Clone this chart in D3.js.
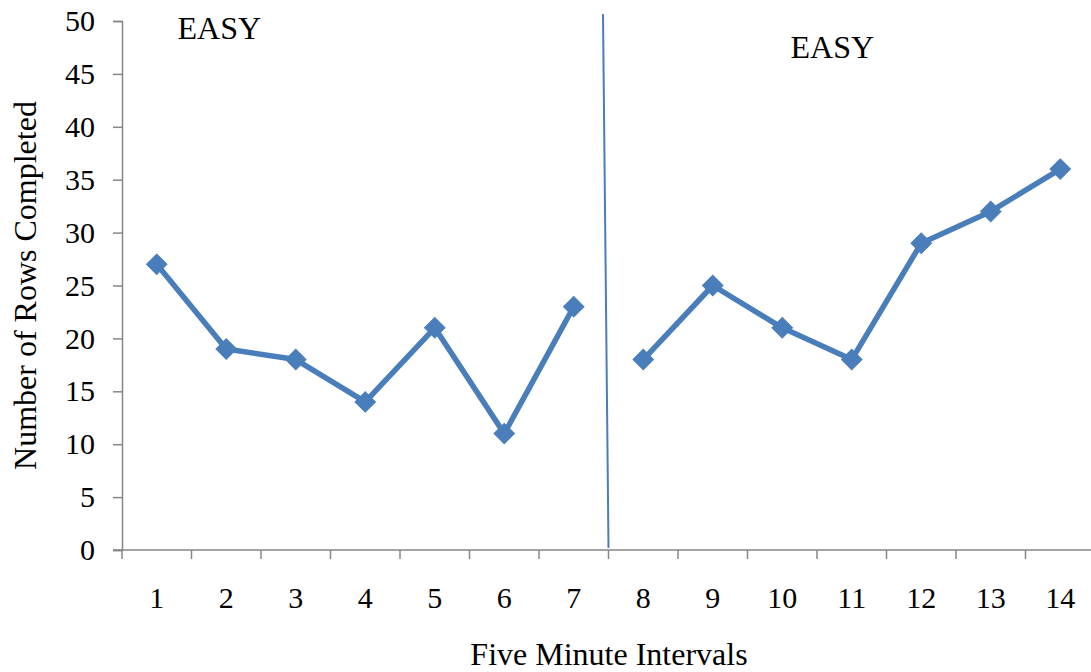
<!DOCTYPE html>
<html>
<head>
<meta charset="utf-8">
<script src="https://cdn.jsdelivr.net/npm/d3@7"></script>
<style>
  html, body { margin: 0; padding: 0; background: #fff; }
  svg { display: block; }
  text { font-family: "Liberation Serif", "Times New Roman", serif; fill: #000; }
</style>
</head>
<body>
<svg id="chart" width="1091" height="672"></svg>
<script>
// Five-minute intervals and rows completed in each
const intervals = [1, 2, 3, 4, 5, 6, 7, 8, 9, 10, 11, 12, 13, 14];
const rowsCompleted = [27, 19, 18, 14, 21, 11, 23, 18, 25, 21, 18, 29, 32, 36];
// Phases (both "EASY"), split between interval 7 and 8
const phaseOne = [1, 2, 3, 4, 5, 6, 7];
const phaseTwo = [8, 9, 10, 11, 12, 13, 14];
const phaseLabels = ["EASY", "EASY"];
const yTicks = [0, 5, 10, 15, 20, 25, 30, 35, 40, 45, 50];

const svg = d3.select("#chart");
const W = 1091, H = 672;
const margin = { left: 122, right: -4, top: 21, bottom: 122 };

const x = d3.scaleBand()
  .domain(intervals)
  .range([margin.left, W - margin.right])
  .paddingInner(0).paddingOuter(0);

const y = d3.scaleLinear()
  .domain([0, 50])
  .range([H - margin.bottom, margin.top]);

const axisColor = "#868686";
const serif = "Liberation Serif, Times New Roman, serif";

// Y axis
const yAxis = svg.append("g")
  .attr("transform", `translate(${margin.left},0)`)
  .call(d3.axisLeft(y).tickValues(yTicks).tickSize(9).tickPadding(18))
  .attr("font-family", serif)
  .attr("font-size", 30);
yAxis.select(".domain").attr("stroke", axisColor).attr("stroke-width", 1.5);
yAxis.selectAll(".tick line").attr("stroke", axisColor).attr("stroke-width", 1.5);
yAxis.selectAll(".tick text")
  .style("font-family", serif)
  .style("font-size", "30px").attr("fill", "#000");

// X axis: tick marks on the category boundaries, labels centred in each band
const xAxisG = svg.append("g")
  .attr("transform", `translate(0,${y(0)})`);
xAxisG.append("line")
  .attr("x1", margin.left - 9).attr("x2", W - margin.right)
  .attr("stroke", axisColor).attr("stroke-width", 1.5);
const boundaries = intervals.map(d => x(d))
  .concat([x(intervals[intervals.length - 1]) + x.bandwidth()]);
xAxisG.selectAll("line.tk").data(boundaries).join("line")
  .attr("class", "tk")
  .attr("x1", d => d).attr("x2", d => d)
  .attr("y1", 0).attr("y2", 9)
  .attr("stroke", axisColor).attr("stroke-width", 1.5);
xAxisG.selectAll("text.lbl").data(intervals).join("text")
  .attr("class", "lbl")
  .attr("x", d => x(d) + x.bandwidth() / 2)
  .attr("y", 58)
  .attr("text-anchor", "middle")
  .style("font-size", "30px")
  .text(d => d);

// Axis titles
svg.append("text")
  .attr("x", 609)
  .attr("y", 665)
  .attr("text-anchor", "middle")
  .style("font-size", "32px")
  .text("Five Minute Intervals");
svg.append("text")
  .attr("transform", `translate(36,${(y(0) + y(50)) / 2}) rotate(-90)`)
  .attr("text-anchor", "middle")
  .style("font-size", "32px")
  .text("Number of Rows Completed");

// Phase-change line between interval 7 and 8
const splitX = x(phaseTwo[0]);
svg.append("line")
  .attr("x1", splitX - 5.5).attr("y1", y(50.65))
  .attr("x2", splitX).attr("y2", y(0.2))
  .attr("stroke", "#4a7ebb").attr("stroke-width", 2);

// Phase labels
svg.append("text")
  .attr("x", x(2) + x.bandwidth() * 0.4)
  .attr("y", y(48.3))
  .attr("text-anchor", "middle")
  .style("font-size", "32px")
  .text(phaseLabels[0]);
svg.append("text")
  .attr("x", x(11) + x.bandwidth() * 0.22)
  .attr("y", y(46.5))
  .attr("text-anchor", "middle")
  .style("font-size", "32px")
  .text(phaseLabels[1]);

// Data series, drawn per phase so the line breaks at the split
const color = "#4a7ebb";
const points = intervals.map((d, i) => ({ t: d, v: rowsCompleted[i] }));
const line = d3.line()
  .x(d => x(d.t) + x.bandwidth() / 2)
  .y(d => y(d.v));
[phaseOne, phaseTwo].forEach(ph => {
  const seg = points.filter(p => ph.includes(p.t));
  svg.append("path")
    .datum(seg)
    .attr("fill", "none")
    .attr("stroke", color)
    .attr("stroke-width", 5.5)
    .attr("stroke-linejoin", "round")
    .attr("d", line);
});

// Diamond markers (rotated squares)
const square = d3.symbol().type(d3.symbolSquare).size(210)();
svg.selectAll("path.mk").data(points).join("path")
  .attr("class", "mk")
  .attr("d", square)
  .attr("transform", d => `translate(${x(d.t) + x.bandwidth() / 2},${y(d.v)}) rotate(45)`)
  .attr("fill", color)
  .attr("stroke", color)
  .attr("stroke-width", 1);
</script>
</body>
</html>
